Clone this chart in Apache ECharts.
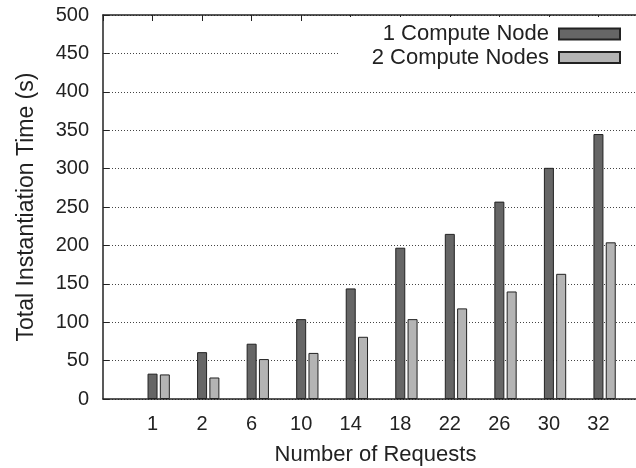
<!DOCTYPE html>
<html>
<head>
<meta charset="utf-8">
<script src="https://cdn.jsdelivr.net/npm/echarts@6/dist/echarts.min.js"></script>
<style>
html,body{margin:0;padding:0;background:#fff;}
#main{width:636px;height:468px;}
</style>
</head>
<body>
<div id="main"></div>
<script>
var categories = ['1', '2', '6', '10', '14', '18', '22', '26', '30', '32'];
var oneNode = [33, 61, 72, 104, 144, 197, 215, 257, 301, 345];
var twoNodes = [32, 28, 52, 60, 81, 104, 118, 140, 163, 204];
var seriesNames = ['1 Compute Node', '2 Compute Nodes'];
var yTicks = {min: 0, max: 500, interval: 50};

var FONT = '"Liberation Sans", Arial, Helvetica, sans-serif';
var TXT = '#222';

function pairs(arr) { return arr.map(function (v, i) { return [i, v]; }); }

var chart = echarts.init(document.getElementById('main'), null, {renderer: 'canvas'});
chart.setOption({
  animation: false,
  backgroundColor: '#fff',
  textStyle: {fontFamily: FONT},
  grid: {left: 103, width: 545, top: 15, bottom: 69, containLabel: false, outerBoundsMode: 'none'},
  legend: {
    data: seriesNames,
    orient: 'vertical',
    align: 'right',
    right: 0,
    top: 17,
    padding: [6, 15, 8, 32],
    backgroundColor: '#fff',
    itemWidth: 61,
    itemHeight: 11,
    itemGap: 1.5,
    icon: 'rect',
    textStyle: {fontSize: 22, color: TXT, fontFamily: FONT, lineHeight: 21, padding: [0, 5, 0, 0]}
  },
  xAxis: [
    {
      type: 'value', min: -1, max: 10, interval: 1, position: 'bottom',
      name: 'Number of Requests', nameLocation: 'middle', nameGap: 45,
      nameTextStyle: {fontSize: 22, color: TXT, fontFamily: FONT},
      axisLine: {show: true, onZero: false, lineStyle: {color: '#222', width: 1.5}},
      axisTick: {show: false},
      splitLine: {show: false},
      axisLabel: {
        fontSize: 20, color: TXT, fontFamily: FONT, margin: 15,
        formatter: function (v) { return categories[v] !== undefined ? categories[v] : ''; }
      }
    },
    {
      type: 'value', min: -1, max: 10, interval: 1, position: 'top',
      axisLine: {show: true, onZero: false, lineStyle: {color: '#222', width: 1.5}},
      axisTick: {show: true, inside: true, length: 6, lineStyle: {color: '#222'}},
      axisLabel: {show: false},
      splitLine: {show: false}
    },
    {
      type: 'value', min: -1.124, max: 9.876, show: false,
      splitLine: {show: false}
    }
  ],
  yAxis: {
    type: 'value', min: yTicks.min, max: yTicks.max, interval: yTicks.interval,
    name: 'Total Instantiation Time (s)', nameLocation: 'middle', nameGap: 65,
    nameTextStyle: {fontSize: 23, color: TXT, fontFamily: FONT},
    axisLine: {show: true, onZero: false, lineStyle: {color: '#222', width: 1.5}},
    axisTick: {show: true, inside: true, length: 6, lineStyle: {color: '#222'}},
    axisLabel: {fontSize: 20, color: TXT, fontFamily: FONT, margin: 14},
    splitLine: {show: true, lineStyle: {color: '#444', type: [1, 2], width: 1}}
  },
  series: [
    {
      name: seriesNames[0], type: 'bar', xAxisIndex: 2,
      data: pairs(oneNode), barWidth: 10, barGap: '23%',
      itemStyle: {color: '#666666', borderColor: '#222', borderWidth: 1}
    },
    {
      name: seriesNames[1], type: 'bar', xAxisIndex: 2,
      data: pairs(twoNodes), barWidth: 10, barGap: '23%',
      itemStyle: {color: '#b4b4b4', borderColor: '#222', borderWidth: 1}
    }
  ]
});
</script>
</body>
</html>
